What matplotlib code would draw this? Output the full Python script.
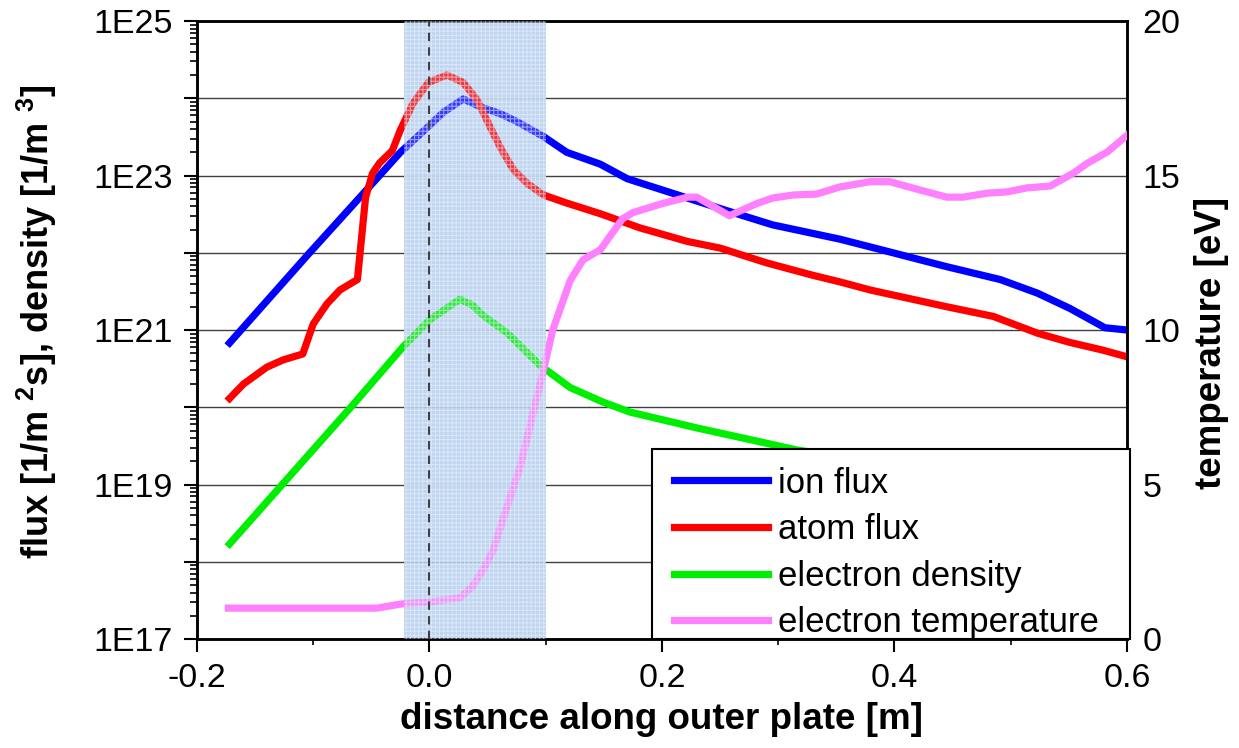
import numpy as np
import matplotlib.pyplot as plt
from matplotlib.patches import Rectangle
from matplotlib.ticker import FixedLocator, LogLocator, FuncFormatter, NullFormatter

plt.rcParams['font.family'] = ['Liberation Sans', 'DejaVu Sans']
plt.rcParams['axes.unicode_minus'] = False
plt.rcParams['mathtext.default'] = 'regular'
plt.rcParams['hatch.linewidth'] = 0.8

# ion flux [1/m2s]
x_ion = [-0.172, -0.105, -0.060, -0.025, -0.001, 0.012, 0.029, 0.045, 0.061, 0.075,
         0.098, 0.118, 0.147, 0.170, 0.209, 0.256, 0.295, 0.353, 0.388, 0.445,
         0.491, 0.523, 0.551, 0.581, 0.600]
ion_flux = [6.8e20, 9.3e21, 5.2e22, 2.0e23, 4.3e23, 6.6e23, 9.8e23, 7.6e23, 6.3e23, 5.0e23,
            3.2e23, 2.0e23, 1.4e23, 9.1e22, 5.9e22, 3.5e22, 2.3e22, 1.5e22, 1.1e22, 6.6e21,
            4.5e21, 3.0e21, 1.9e21, 1.07e21, 1.0e21]

# atom flux [1/m2s]
x_atom = [-0.172, -0.160, -0.140, -0.126, -0.109, -0.100, -0.088, -0.077, -0.062, -0.055,
          -0.049, -0.043, -0.032, -0.025, -0.014, -0.001, 0.015, 0.029, 0.041, 0.052,
          0.061, 0.072, 0.084, 0.098, 0.118, 0.147, 0.181, 0.222, 0.250, 0.290,
          0.330, 0.353, 0.379, 0.445, 0.485, 0.523, 0.551, 0.579, 0.600]
atom_flux = [1.3e20, 2.0e20, 3.3e20, 4.1e20, 4.9e20, 1.2e21, 2.2e21, 3.3e21, 4.5e21, 5.2e22,
             1.07e23, 1.45e23, 2.1e23, 3.9e23, 8.7e23, 1.6e24, 2.0e24, 1.6e24, 9.5e23, 4.3e23,
             2.3e23, 1.2e23, 7.9e22, 5.6e22, 4.4e22, 3.2e22, 2.1e22, 1.4e22, 1.15e22, 7.4e21,
             5.1e21, 4.2e21, 3.3e21, 2.0e21, 1.5e21, 9.1e20, 6.9e20, 5.5e20, 4.5e20]

# electron density [1/m3]
x_ne = [-0.172, -0.066, -0.023, 0.000, 0.026, 0.037, 0.046, 0.067, 0.095, 0.121,
        0.149, 0.172, 0.230, 0.287, 0.316, 0.400, 0.500, 0.600]
n_e = [1.7e18, 1.07e20, 6.0e20, 1.35e21, 2.5e21, 2.1e21, 1.55e21, 9.1e20, 3.5e20, 1.8e20,
       1.17e20, 8.7e19, 5.4e19, 3.5e19, 2.8e19, 1.8e19, 1.1e19, 7.0e18]

# electron temperature [eV]
x_te = [-0.173, -0.045, -0.025, 0.000, 0.026, 0.037, 0.047, 0.055, 0.063, 0.078,
        0.089, 0.098, 0.106, 0.121, 0.132, 0.147, 0.166, 0.175, 0.201, 0.222,
        0.230, 0.258, 0.282, 0.295, 0.313, 0.333, 0.353, 0.379, 0.396, 0.422,
        0.445, 0.459, 0.480, 0.497, 0.514, 0.534, 0.554, 0.566, 0.583, 0.600]
t_e = [1.0, 1.0, 1.13, 1.2, 1.33, 1.7, 2.3, 2.9, 3.85, 5.57,
       7.3, 8.7, 10.0, 11.6, 12.27, 12.6, 13.6, 13.8, 14.1, 14.3,
       14.3, 13.7, 14.1, 14.27, 14.37, 14.4, 14.63, 14.8, 14.8, 14.53,
       14.3, 14.3, 14.43, 14.47, 14.6, 14.66, 15.08, 15.4, 15.76, 16.3]

labels = ['ion flux', 'atom flux', 'electron density', 'electron temperature']
colors = ['#0000ff', '#ff0000', '#00ee00', '#ff80ff']
shade_lo, shade_hi = -0.022, 0.1

fig = plt.figure(figsize=(12.39, 7.48), dpi=100)
ax = fig.add_axes([0.159, 0.1457, 0.7506, 0.8262])
ax2 = ax.twinx()

lw = 5.2
h1, = ax.plot(x_ion, ion_flux, color=colors[0], lw=lw, zorder=3)
h2, = ax.plot(x_atom, atom_flux, color=colors[1], lw=lw, zorder=3)
h3, = ax.plot(x_ne, n_e, color=colors[2], lw=lw, zorder=3)
h4, = ax2.plot(x_te, t_e, color=colors[3], lw=lw, zorder=3)

ax.set_yscale('log')
ax.set_ylim(1e17, 1e25)
ax.set_xlim(-0.2, 0.6)
ax2.set_ylim(0, 20)

# shaded region: solid tint under the curves, dotted pattern on top of them
ax.axvspan(shade_lo, shade_hi, facecolor='#b9d1ee', alpha=0.85, lw=0, zorder=0.8)
ax2.axvspan(shade_lo, shade_hi, facecolor=(0.72, 0.81, 0.93, 0.28), hatch='++++',
            edgecolor=(0.93, 0.96, 1.0, 0.55), lw=0, zorder=5)
ax2.axvline(0, color='#404040', lw=1.5, ls=(0, (4, 3)), zorder=6)

# grid
ax.grid(axis='y', which='major', color='#404040', lw=1.0)
ax.set_axisbelow(True)

# ticks
ax.yaxis.set_major_locator(FixedLocator(10.0 ** np.arange(17, 26)))
ax.yaxis.set_major_formatter(FuncFormatter(
    lambda v, p: '1E%d' % round(np.log10(v)) if round(np.log10(v)) % 2 == 1 else ''))
ax.yaxis.set_minor_locator(LogLocator(base=10, subs=np.arange(2, 10), numticks=100))
ax.yaxis.set_minor_formatter(NullFormatter())
ax.xaxis.set_major_locator(FixedLocator([-0.2, 0.0, 0.2, 0.4, 0.6]))
ax.xaxis.set_major_formatter(FuncFormatter(lambda v, p: '%.1f' % v))
ax.xaxis.set_minor_locator(FixedLocator([-0.1, 0.1, 0.3, 0.5]))

ax.tick_params(axis='y', which='major', length=9.5, width=1.5, labelsize=24.5, pad=8)
ax.tick_params(axis='y', which='minor', length=5, width=1.2)
ax.tick_params(axis='x', which='major', length=9, width=1.5, labelsize=24.5, pad=8)
ax.tick_params(axis='x', which='minor', length=4, width=1.2)
ax2.yaxis.set_major_locator(FixedLocator([0, 5, 10, 15, 20]))
ax2.tick_params(axis='y', length=0, labelsize=24.5, pad=11)

for a in (ax, ax2):
    for s in a.spines.values():
        s.set_linewidth(1.8)
        s.set_color('black')

ax.set_xlabel('distance along outer plate [m]', fontsize=26.5, fontweight='bold', labelpad=6)
ax.set_ylabel('flux [1/m $^{2}$s], density [1/m $^{3}$]', fontsize=26, fontweight='bold')
ax.yaxis.set_label_coords(-0.148, 0.513)
ax2.set_ylabel('temperature [eV]', fontsize=26.5, fontweight='bold')
ax2.yaxis.set_label_coords(1.072, 0.479)

# legend box drawn by hand so its padding matches
ax2.add_patch(Rectangle((0.489, 0.0), 0.514, 0.307, transform=ax2.transAxes,
                        facecolor='white', edgecolor='black', lw=1.5,
                        clip_on=False, zorder=9))
leg = ax2.legend([h1, h2, h3, h4], labels, loc='upper left',
                 bbox_to_anchor=(0.513, 0.279), borderaxespad=0, borderpad=0,
                 fontsize=25, frameon=False, handlelength=2.7,
                 handletextpad=0.3, labelspacing=0.39)
leg.set_zorder(10)

fig.savefig('out.png', dpi=100)
